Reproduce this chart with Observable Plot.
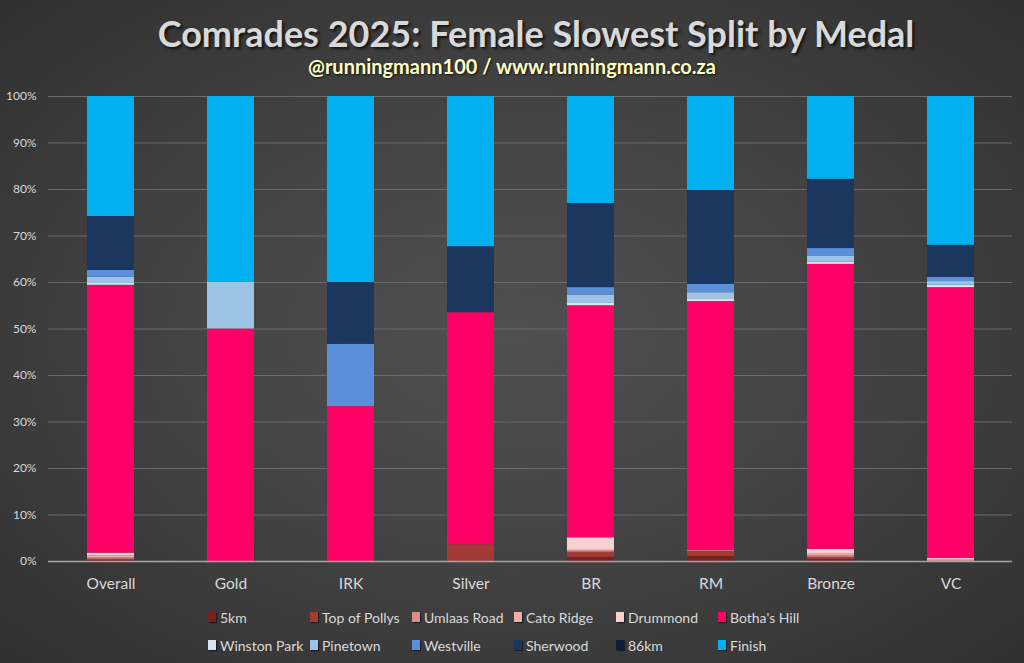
<!DOCTYPE html>
<html>
<head>
<meta charset="utf-8">
<script src="https://cdn.jsdelivr.net/npm/d3@7"></script>
<script src="https://cdn.jsdelivr.net/npm/@observablehq/plot@0.6"></script>
<style>
  html, body { margin: 0; padding: 0; }
  body {
    width: 1024px; height: 663px; overflow: hidden;
    background: radial-gradient(ellipse at 50% 50%, #505050 0%, #444 45%, #303030 100%);
    font-family: Lato, "Open Sans", sans-serif;
  }
  #title {
    height: 84px; text-align: center; position: relative;
  }
  #title .t {
    position: absolute; left: 48px; right: 0; top: 11px;
    font-size: 36px; font-weight: bold; color: #d9d9d9;
    text-shadow: 2px 2px 3px rgba(0,0,0,0.7);
  }
  #title .s {
    position: absolute; left: 0; right: 0; top: 54px;
    font-size: 20px; font-weight: bold; color: #ffffc4;
    text-shadow: 1px 1px 2px rgba(0,0,0,0.7);
  }
  #chart svg { display: block; }
  #legend {
    display: grid; grid-template-columns: repeat(6, 102px);
    grid-auto-rows: 28px; margin-left: 208px; padding-top: 3px;
    color: #d9d9d9; font-size: 14px;
  }
  #legend .it { display: flex; align-items: center; white-space: nowrap; }
  #legend .sw { width: 8px; height: 10px; margin-right: 4px; box-shadow: 1px 1px 1px rgba(0,0,0,0.5); }
</style>
</head>
<body>
<div id="title">
  <div class="t">Comrades 2025: Female Slowest Split by Medal</div>
  <div class="s">@runningmann100 / www.runningmann.co.za</div>
</div>
<div id="chart"></div>
<div id="legend"></div>
<script>
const medals = ["Overall", "Gold", "IRK", "Silver", "BR", "RM", "Bronze", "VC"];
const splits = ["5km", "Top of Pollys", "Umlaas Road", "Cato Ridge", "Drummond", "Botha's Hill",
                "Winston Park", "Pinetown", "Westville", "Sherwood", "86km", "Finish"];
const colors = ["#7b1f1f", "#a33a36", "#d98c8c", "#efaaaa", "#f7d0d0", "#ff0066",
                "#d6e3f5", "#9dc3e6", "#5b8fd9", "#1b365f", "#0e1e38", "#00b0f0"];

// percentage of runners whose slowest split was each section (per medal)
const km5         = [0.2, 0,    0,    0,    0.9,  1.1,  0.4,  0];
const topOfPollys = [0.3, 0,    0,    3.6,  1.1,  1.1,  0.5,  0];
const umlaasRoad  = [0.3, 0,    0,    0,    0.2,  0.2,  0.3,  0.2];
const catoRidge   = [0.4, 0,    0,    0,    0.2,  0,    0.4,  0.2];
const drummond    = [0.6, 0,    0,    0,    2.7,  0,    1.0,  0.3];
const bothasHill  = [57.6, 50,  33.3, 49.9, 49.9, 53.5, 61.3, 58.2];
const winstonPark = [0.4, 0,    0,    0,    0.5,  0.6,  0.5,  0.5];
const pinetown    = [1.3, 10,   0,    0,    1.8,  1.3,  1.3,  0.8];
const westville   = [1.5, 0,    13.4, 0,    1.6,  1.8,  1.6,  0.9];
const sherwood    = [11.6, 0,   13.3, 14.2, 18.1, 20.2, 14.9, 6.9];
const km86        = [0,   0,    0,    0,    0,    0,    0,    0];
const finish      = [25.8, 40,  40,   32.3, 23.0, 20.2, 17.8, 32.0];

const series = [km5, topOfPollys, umlaasRoad, catoRidge, drummond, bothasHill,
                winstonPark, pinetown, westville, sherwood, km86, finish];

const data = [];
splits.forEach((s, i) => medals.forEach((m, j) => data.push({medal: m, split: s, value: series[i][j]})));

const chart = Plot.plot({
  width: 1024,
  height: 516,
  marginTop: 12,
  marginBottom: 39,
  marginLeft: 48,
  marginRight: 12,
  style: {background: "transparent", color: "#d9d9d9", fontFamily: "Lato, 'Open Sans', sans-serif"},
  x: {domain: medals, paddingInner: 0.61, paddingOuter: 0.305, label: null},
  y: {domain: [0, 1], label: null},
  color: {domain: splits, range: colors},
  marks: [
    Plot.gridY(d3.range(0.1, 1.01, 0.1), {stroke: "#6a6a6a", strokeOpacity: 1, strokeWidth: 1}),
    Plot.axisY(d3.range(0, 1.01, 0.1), {tickFormat: d3.format(".0%"), tickSize: 0, tickPadding: 12,
      fontSize: 12, fill: "#d9d9d9"}),
    Plot.axisX({tickSize: 0, tickPadding: 16, fontSize: 15.5, fill: "#d9d9d9"}),
    Plot.barY(data, Plot.stackY({x: "medal", y: "value", z: "split", fill: "split", offset: "normalize",
      style: "filter: drop-shadow(1px 1px 1.5px rgba(0,0,0,0.55))"})),
    Plot.ruleY([0], {stroke: "#a6a6a6", strokeWidth: 1.5})
  ]
});
document.getElementById("chart").appendChild(chart);

const legend = document.getElementById("legend");
splits.forEach((s, i) => {
  const it = document.createElement("div");
  it.className = "it";
  const sw = document.createElement("span");
  sw.className = "sw";
  sw.style.background = colors[i];
  it.appendChild(sw);
  it.appendChild(document.createTextNode(s));
  legend.appendChild(it);
});
</script>
</body>
</html>
